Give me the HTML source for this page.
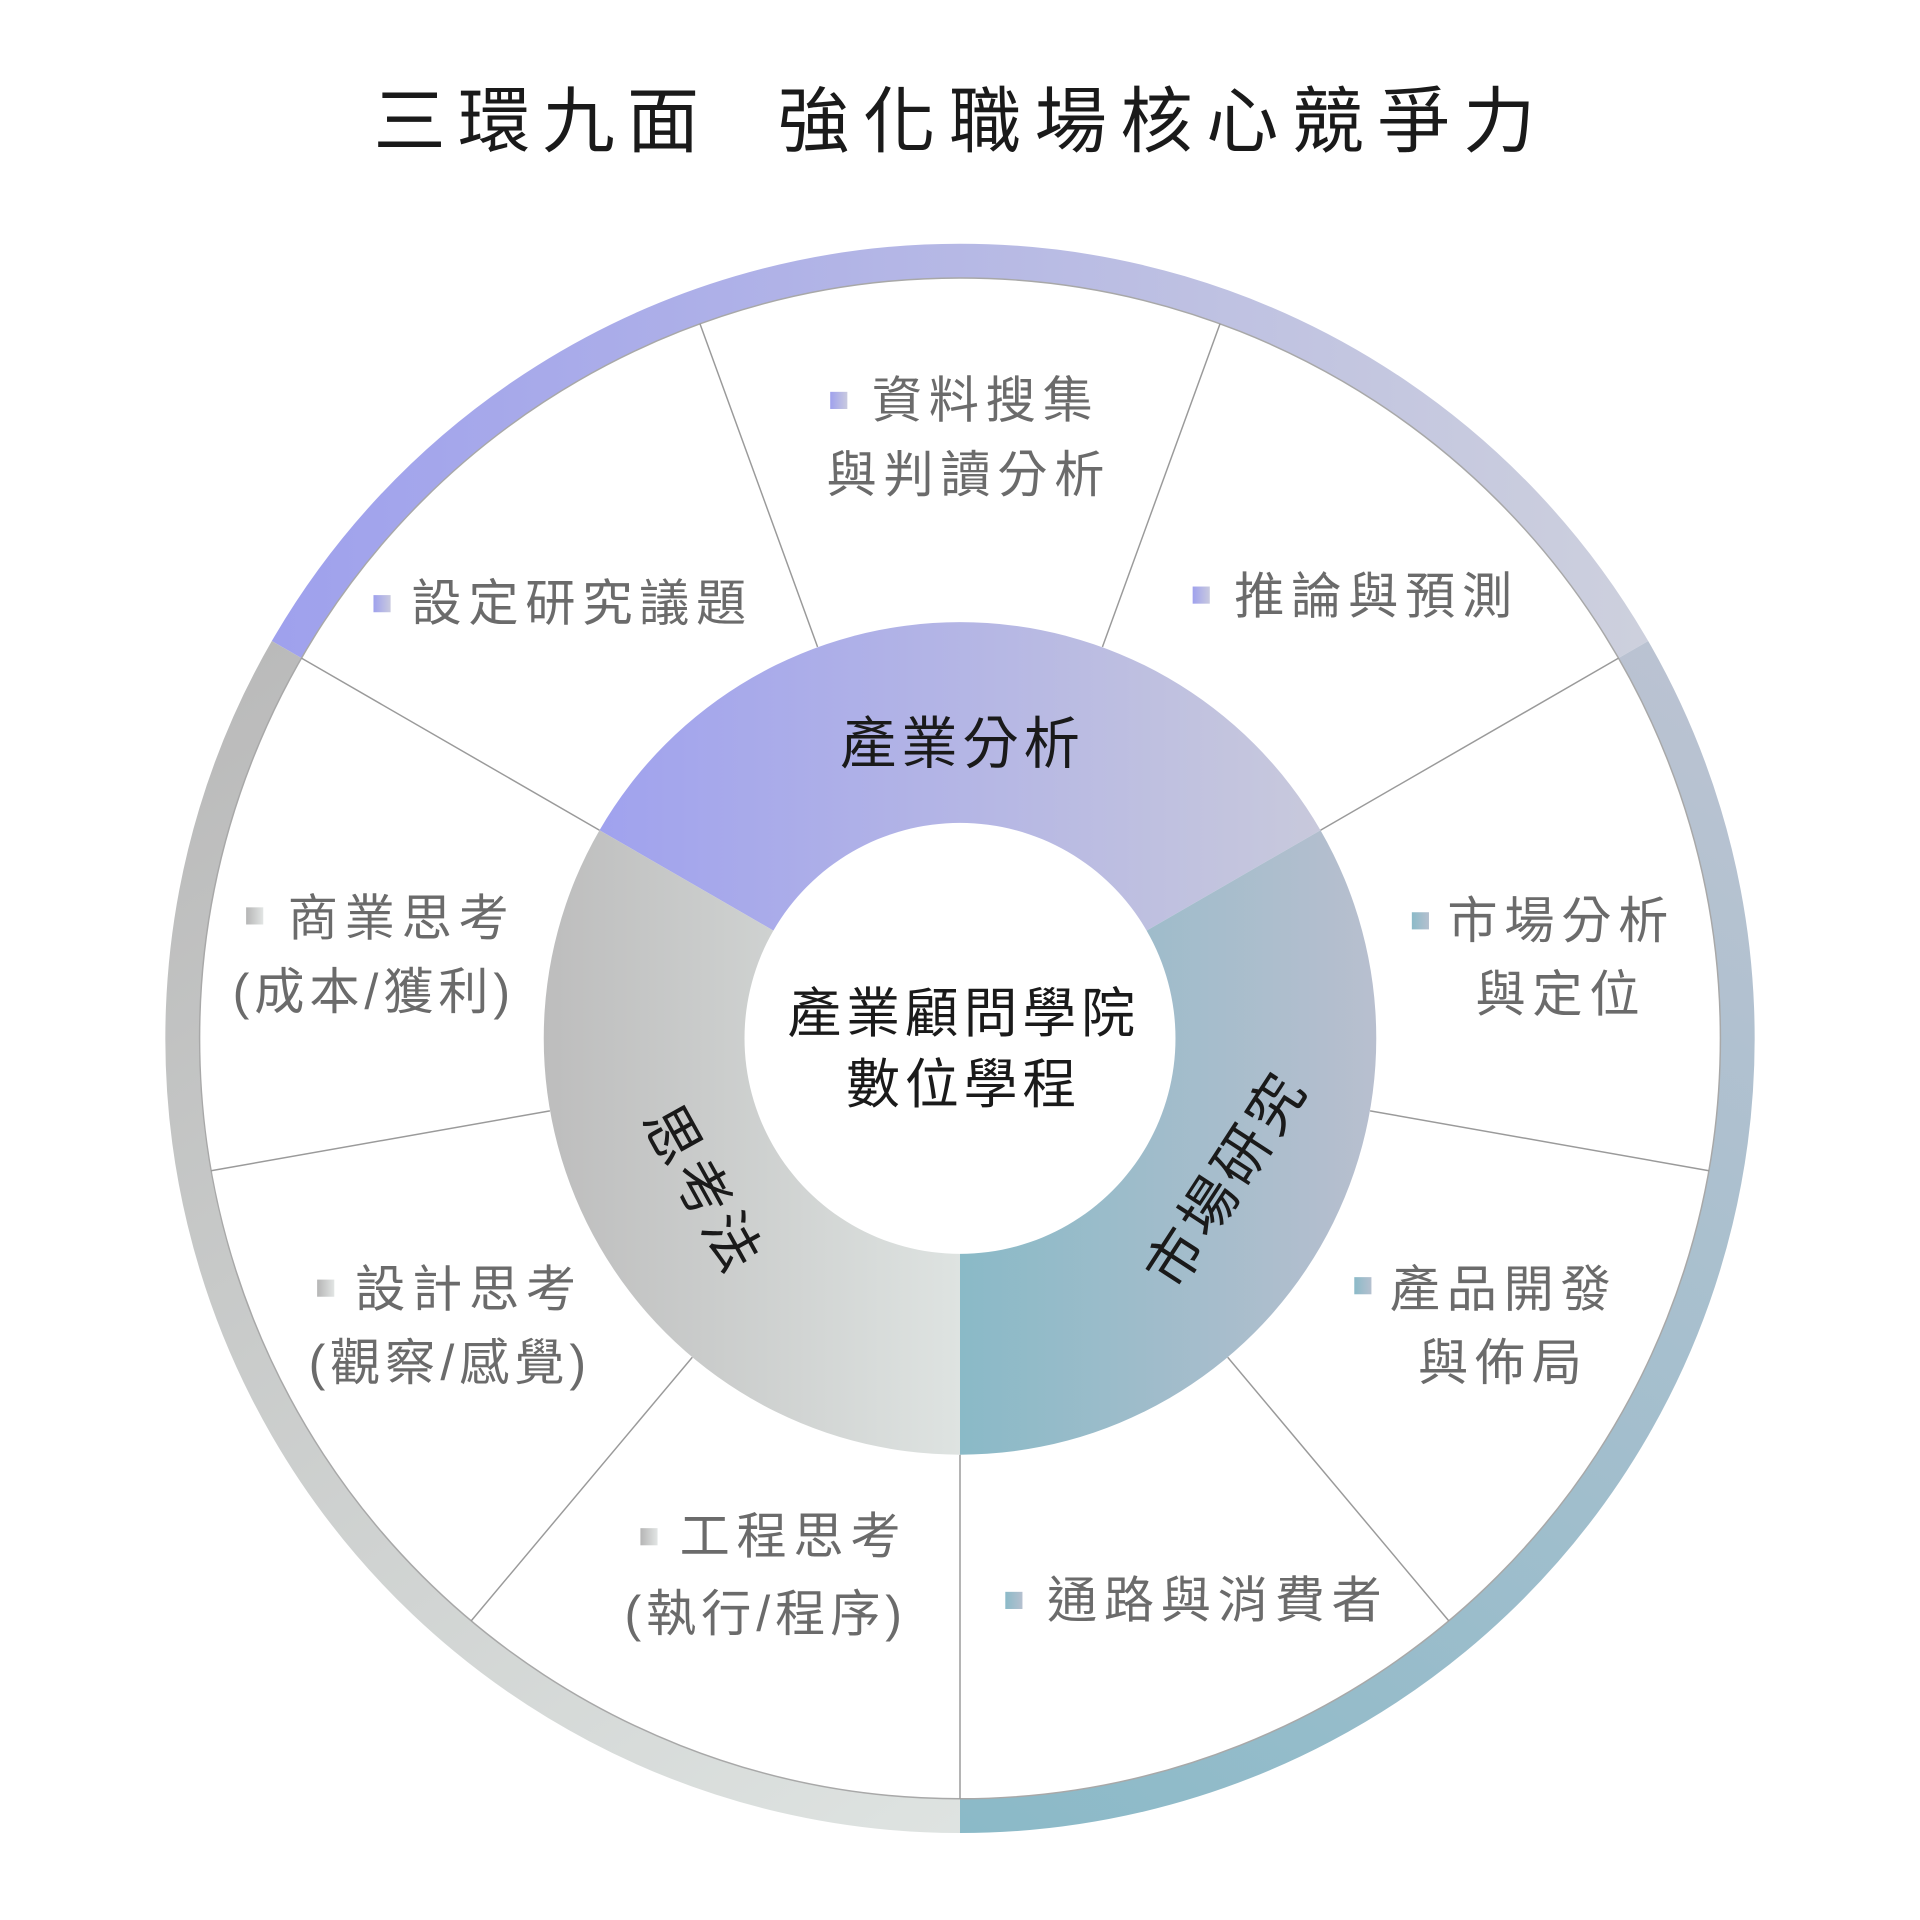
<!DOCTYPE html>
<html><head><meta charset="utf-8"><style>
html,body{margin:0;padding:0;background:#fff;}
svg{display:block;}
text{font-family:"Liberation Sans","Noto Sans CJK TC",sans-serif;}
.l{font-size:41px;fill:#6b6b6b;letter-spacing:5.5px;dominant-baseline:central;}
.c{font-size:44px;fill:#1a1a1a;letter-spacing:4px;dominant-baseline:central;text-anchor:middle;}
</style></head><body>
<svg width="1920" height="1920" viewBox="0 0 1568 1568" xmlns="http://www.w3.org/2000/svg">
<defs>
<linearGradient id="gp" gradientUnits="userSpaceOnUse" x1="230" y1="0" x2="1340" y2="0"><stop offset="0" stop-color="#9fa1ed"/><stop offset="1" stop-color="#cdd0dd"/></linearGradient>
<linearGradient id="gg" gradientUnits="userSpaceOnUse" x1="150" y1="530" x2="784" y2="1490"><stop offset="0" stop-color="#b9b9b9"/><stop offset="1" stop-color="#dee3e1"/></linearGradient>
<linearGradient id="gt" gradientUnits="userSpaceOnUse" x1="784" y1="1490" x2="1420" y2="530"><stop offset="0" stop-color="#8bbac8"/><stop offset="1" stop-color="#bcc3d2"/></linearGradient>
<linearGradient id="dp" gradientUnits="userSpaceOnUse" x1="490" y1="0" x2="1078" y2="0"><stop offset="0" stop-color="#a0a2ee"/><stop offset="1" stop-color="#c8c9dc"/></linearGradient>
<linearGradient id="dg" gradientUnits="userSpaceOnUse" x1="444" y1="0" x2="784" y2="0"><stop offset="0" stop-color="#bdbdbd"/><stop offset="1" stop-color="#dee3e1"/></linearGradient>
<linearGradient id="dt" gradientUnits="userSpaceOnUse" x1="784" y1="0" x2="1124" y2="0"><stop offset="0" stop-color="#8abac7"/><stop offset="1" stop-color="#b8bfcf"/></linearGradient>
<linearGradient id="mp" x1="0" y1="0" x2="1" y2="0"><stop offset="0" stop-color="#9fa1ed"/><stop offset="1" stop-color="#c9cadf"/></linearGradient>
<linearGradient id="mg" x1="0" y1="0" x2="1" y2="0"><stop offset="0" stop-color="#b5b5b5"/><stop offset="1" stop-color="#e2e5e4"/></linearGradient>
<linearGradient id="mt" x1="0" y1="0" x2="1" y2="0"><stop offset="0" stop-color="#8bbac8"/><stop offset="1" stop-color="#b5c0cf"/></linearGradient>
</defs>
<text x="305" y="100" style="font-size:59px;fill:#1a1a1a;letter-spacing:10px;dominant-baseline:central">三環九面</text>
<text x="635" y="100" style="font-size:59px;fill:#1a1a1a;letter-spacing:11px;dominant-baseline:central">強化職場核心競爭力</text>
<path d="M234.1,530.5 A635,635 0 0 1 1333.9,530.5" fill="none" stroke="url(#gp)" stroke-width="28"/>
<path d="M234.1,530.5 A635,635 0 0 0 784,1483" fill="none" stroke="url(#gg)" stroke-width="28"/>
<path d="M784,1483 A635,635 0 0 0 1333.9,530.5" fill="none" stroke="url(#gt)" stroke-width="28"/>
<circle cx="784" cy="848" r="621" fill="none" stroke="#a8a8a8" stroke-width="1.2"/>
<g stroke="#9a9a9a" stroke-width="1.2">
<line x1="1078.4" y1="678" x2="1321.8" y2="537.5"/>
<line x1="900.3" y1="528.4" x2="996.4" y2="264.3"/>
<line x1="667.7" y1="528.4" x2="571.6" y2="264.3"/>
<line x1="489.6" y1="678" x2="246.2" y2="537.5"/>
<line x1="449.1" y1="907.2" x2="172.3" y2="956.1"/>
<line x1="565.4" y1="1108.4" x2="384.8" y2="1323.7"/>
<line x1="784" y1="1188" x2="784" y2="1469"/>
<line x1="1002.6" y1="1108.4" x2="1183.2" y2="1323.7"/>
<line x1="1118.9" y1="907.2" x2="1395.7" y2="956.1"/>
</g>
<path d="M489.6,678 A340,340 0 0 1 1078.4,678 L936.4,760 A176,176 0 0 0 631.6,760 Z" fill="url(#dp)"/>
<path d="M1078.4,678 A340,340 0 0 1 784,1188 L784,1024 A176,176 0 0 0 936.4,760 Z" fill="url(#dt)"/>
<path d="M784,1188 A340,340 0 0 1 489.6,678 L631.6,760 A176,176 0 0 0 784,1024 Z" fill="url(#dg)"/>
<text class="c" x="786" y="607" style="font-size:46px">產業分析</text>
<text class="c" x="787" y="828">產業顧問學院</text>
<text class="c" x="787" y="886">數位學程</text>
<text class="c" x="0" y="0" transform="translate(574,972) rotate(61)" style="font-size:46px">思考法</text>
<text class="c" x="0" y="0" transform="translate(1002,963) rotate(-57)" style="font-size:46px">市場研究</text>
<rect x="678" y="320" width="14" height="14" fill="url(#mp)"/>
<rect x="305" y="486" width="14" height="14" fill="url(#mp)"/>
<rect x="974" y="479" width="14" height="14" fill="url(#mp)"/>
<rect x="201" y="741" width="14" height="14" fill="url(#mg)"/>
<rect x="259" y="1045" width="14" height="14" fill="url(#mg)"/>
<rect x="523" y="1248" width="14" height="14" fill="url(#mg)"/>
<rect x="1153" y="745" width="14" height="14" fill="url(#mt)"/>
<rect x="1106" y="1043" width="14" height="14" fill="url(#mt)"/>
<rect x="821" y="1300" width="14" height="14" fill="url(#mt)"/>
<text class="l" x="712" y="327">資料搜集</text>
<text class="l" x="675" y="388">與判讀分析</text>
<text class="l" x="336" y="493">設定研究議題</text>
<text class="l" x="1008" y="487">推論與預測</text>
<text class="l" x="235" y="750">商業思考</text>
<text class="l" x="190" y="810" style="letter-spacing:4px">(成本/獲利)</text>
<text class="l" x="1182" y="752">市場分析</text>
<text class="l" x="1205" y="812">與定位</text>
<text class="l" x="290" y="1053">設計思考</text>
<text class="l" x="252" y="1113" style="letter-spacing:4px">(觀察/感覺)</text>
<text class="l" x="1135" y="1053">產品開發</text>
<text class="l" x="1158" y="1113">與佈局</text>
<text class="l" x="555" y="1255">工程思考</text>
<text class="l" x="510" y="1318" style="letter-spacing:4px">(執行/程序)</text>
<text class="l" x="855" y="1307">通路與消費者</text>
</svg>
</body></html>
